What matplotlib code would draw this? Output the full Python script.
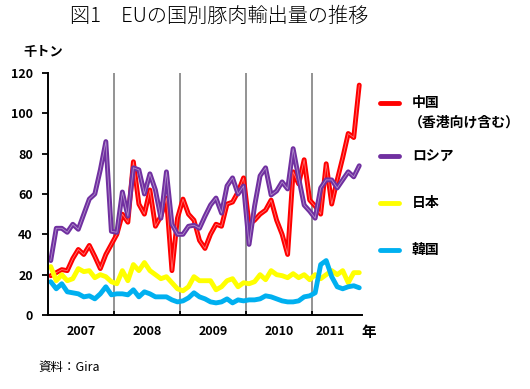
# -*- coding: utf-8 -*-
# EU pork exports by destination, monthly 2007-2011 (thousand tonnes)
import numpy as np
import matplotlib
matplotlib.use('Agg')
import matplotlib.pyplot as plt
from matplotlib.lines import Line2D

plt.rcParams['font.family'] = ['Noto Sans CJK JP', 'DejaVu Sans']

# monthly values, Jan 2007 .. Sep 2011
china = [19.5, 21, 22.5, 22, 28, 32.5, 30, 34.5, 29, 23, 30, 35,
         40, 50, 46, 76, 55, 50, 62, 44, 49, 58, 22, 48,
         57.5, 50, 47, 37, 33, 40, 45, 44, 55, 56, 61, 68,
         45, 47, 50, 52, 57, 47, 40, 30, 71, 65, 77, 57,
         54, 50, 75, 55, 67, 78, 90, 88, 114]
russia = [27, 43, 43, 41, 45, 42.5, 50, 57.5, 60, 72, 86, 41.5,
          41, 61, 49, 73, 72, 60, 70, 62, 48, 71, 45, 40,
          40, 44, 44.5, 43, 49, 54.5, 58, 50.5, 64, 68, 60, 64,
          35, 54, 69, 73, 59.5, 61.5, 66, 62.5, 82.5, 68, 54.5, 51.5,
          48, 63, 67, 67, 63, 67, 71, 68.5, 74]
japan = [24, 17, 20, 17, 18, 23, 21.5, 22, 18.5, 20, 19, 16.5,
         15.5, 22, 17, 25, 22, 26, 22, 20, 18, 19, 16, 13,
         12, 14, 19, 17, 17, 17, 12.5, 14, 17, 18, 14, 16,
         15.5, 16.5, 20, 17.5, 22, 20, 19.5, 18.5, 20.5, 18.5, 20, 17.5,
         20, 18, 20, 22, 20, 22, 16, 21, 21]
korea = [16.5, 13, 15.5, 11.5, 11, 10.5, 9, 9.5, 8, 10.5, 14, 10,
         10.5, 10.5, 10, 12.5, 9, 11.5, 10.5, 9, 9, 9, 7.5, 6.5,
         7, 8.5, 11, 9, 8, 6.5, 6, 6.5, 8, 6, 7.5, 7,
         7.5, 7.5, 8, 9.5, 9, 8, 7, 6.5, 6.5, 7, 9, 9.5,
         11, 25, 27, 19, 14, 13, 14, 14.5, 13.5]

years = ['2007', '2008', '2009', '2010', '2011']
year_bounds = [12, 24, 36, 48]
year_label_pos = [6, 18, 30, 42, 51.3]
yticks = [0, 20, 40, 60, 80, 100, 120]

names = ['中国', 'ロシア', '日本', '韓国']
colors = ['#FF0000', '#7030A0', '#FFFF00', '#00B0F0']
cored = [True, True, False, False]   # red/purple have a light centre stripe

W, H = 530, 389
fig = plt.figure(figsize=(W / 100, H / 100), dpi=100)
ax = fig.add_axes([48 / W, 1 - 315 / H, 314 / W, 242 / H])

x = np.arange(len(china)) + 0.5
z = 3
for vals, c, core in zip([china, russia, japan, korea], colors, cored):
    ax.plot(x, vals, color=c, lw=3.5, solid_joinstyle='round', solid_capstyle='round', zorder=z)
    if core:
        ax.plot(x, vals, color='white', lw=0.6, alpha=0.45, solid_joinstyle='round', zorder=z + 0.5)
    z += 1

for b in year_bounds:
    ax.axvline(b, color='#808080', lw=1.2, zorder=1)

ax.set_xlim(0, len(china))
ax.set_ylim(0, 120)
for s in ['top', 'right']:
    ax.spines[s].set_visible(False)
for s in ['left', 'bottom']:
    ax.spines[s].set_linewidth(1.4)
    ax.spines[s].set_zorder(10)

ax.set_yticks(yticks)
ax.set_yticklabels([str(v) for v in yticks], fontweight='bold', fontsize=9)
ax.tick_params(axis='y', direction='out', length=4, width=1.3, pad=7)

ax.set_xticks(year_bounds)
ax.set_xticklabels([])
ax.tick_params(axis='x', which='major', direction='in', length=3, width=1.3)
ax.set_xticks(year_label_pos, minor=True)
ax.set_xticklabels(years, minor=True, fontweight='bold', fontsize=9)
ax.tick_params(axis='x', which='minor', length=0, pad=7)

def px(xp, yp):
    return xp / W, 1 - yp / H

fig.text(*px(219, 16), '図1\u3000EUの国別豚肉輸出量の推移', fontsize=14.5,
         ha='center', va='center', fontweight='light')
fig.text(*px(23, 52), '千トン', fontsize=9.5, fontweight='bold', ha='left', va='center')
fig.text(*px(369, 332), '年', fontsize=10.5, fontweight='bold', ha='center', va='center')
fig.text(*px(38, 367), '資料：Gira', fontsize=9, ha='left', va='center')

# legend, drawn by hand
leg_y = [103, 156, 203, 250]
for name, c, yp in zip(names, colors, leg_y):
    fig.add_artist(Line2D([380 / W, 399 / W], [1 - yp / H, 1 - yp / H], color=c, lw=3.5,
                          solid_capstyle='round', transform=fig.transFigure))
    fig.text(*px(412, yp), name, fontsize=10, fontweight='bold', ha='left', va='center')
fig.text(*px(409, 123), '（香港向け含む）', fontsize=10, fontweight='bold', ha='left', va='center')

fig.savefig('out.png', dpi=100)
